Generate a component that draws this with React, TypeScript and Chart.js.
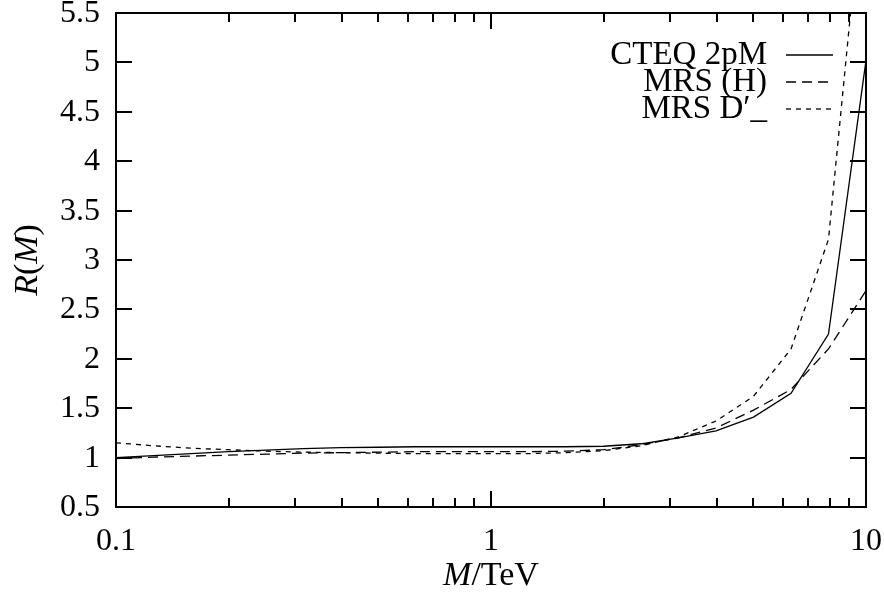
import React, { useEffect, useRef } from 'react';
import { Chart, registerables } from 'chart.js';

Chart.register(...registerables);

const FONT = '"Liberation Serif", "DejaVu Serif", serif';

// Mass points (TeV)
const M_VALUES = [0.1, 0.1259, 0.1585, 0.1995, 0.2512, 0.3162, 0.3981, 0.5012, 0.631, 0.7943, 1, 1.259, 1.585, 1.995, 2.512, 3.162, 3.981, 5.012, 6.31, 7.943, 10];
// R(M) for each PDF set
const CTEQ_2PM = [1.0, 1.02, 1.04, 1.06, 1.075, 1.09, 1.1, 1.105, 1.11, 1.11, 1.11, 1.11, 1.11, 1.115, 1.14, 1.2, 1.27, 1.41, 1.65, 2.25, 5.02];
const MRS_H = [0.99, 1.005, 1.015, 1.025, 1.035, 1.045, 1.05, 1.055, 1.06, 1.06, 1.06, 1.06, 1.065, 1.08, 1.13, 1.2, 1.3, 1.48, 1.69, 2.1, 2.69];
const MRS_D = [1.15, 1.12, 1.095, 1.08, 1.065, 1.055, 1.05, 1.045, 1.04, 1.04, 1.04, 1.04, 1.05, 1.07, 1.12, 1.21, 1.37, 1.62, 2.1, 3.21, 7.1];

const SERIES_LABELS = ['CTEQ 2pM', 'MRS (H)', 'MRS D\u2032_'];
const SERIES_DASH: number[][] = [[], [10, 6], [5, 5]];

const Y_TICKS = [0.5, 1, 1.5, 2, 2.5, 3, 3.5, 4, 4.5, 5, 5.5];
const X_MAJOR = [0.1, 1, 10];
const X_MINOR = [0.2, 0.3, 0.4, 0.5, 0.6, 0.7, 0.8, 0.9, 2, 3, 4, 5, 6, 7, 8, 9];

function drawMixed(ctx: CanvasRenderingContext2D, parts: [string, boolean][], cx: number, cy: number, size: number) {
  let total = 0;
  const widths = parts.map(([t, it]) => {
    ctx.font = `${it ? 'italic ' : ''}${size}px ${FONT}`;
    const w = ctx.measureText(t).width;
    total += w;
    return w;
  });
  let x = cx - total / 2;
  ctx.textAlign = 'left';
  ctx.textBaseline = 'middle';
  parts.forEach(([t, it], i) => {
    ctx.font = `${it ? 'italic ' : ''}${size}px ${FONT}`;
    ctx.fillText(t, x, cy);
    x += widths[i];
  });
}

const framePlugin = {
  id: 'frame',
  afterDraw(chart: any) {
    const { ctx, chartArea, scales } = chart;
    const L = Number(chartArea.left);
    const R = Number(chartArea.right);
    const T = Number(chartArea.top);
    const B = Number(chartArea.bottom);
    const x = scales.x;
    const y = scales.y;
    ctx.save();
    ctx.strokeStyle = '#000000';
    ctx.fillStyle = '#000000';
    ctx.lineWidth = 2;
    ctx.setLineDash([]);
    ctx.strokeRect(L, T, R - L, B - T);

    // inward tick marks on all four sides
    ctx.beginPath();
    Y_TICKS.forEach((v) => {
      const py = Math.round(y.getPixelForValue(v));
      ctx.rect(L, py - 1, 16, 2);
      ctx.rect(R - 16, py - 1, 16, 2);
    });
    X_MAJOR.forEach((v) => {
      const px = Math.round(x.getPixelForValue(v));
      ctx.rect(px - 1, B - 16, 2, 16);
      ctx.rect(px - 1, T, 2, 16);
    });
    X_MINOR.forEach((v) => {
      const px = Math.round(x.getPixelForValue(v));
      ctx.rect(px - 1, B - 9, 2, 9);
      ctx.rect(px - 1, T, 2, 9);
    });
    ctx.fill();

    ctx.font = `32px ${FONT}`;
    Y_TICKS.forEach((v) => {
      const py = Math.round(y.getPixelForValue(v));
      ctx.textAlign = 'right';
      ctx.textBaseline = 'middle';
      ctx.fillText(String(v), 100, py + 1);
    });
    X_MAJOR.forEach((v) => {
      const px = Math.round(x.getPixelForValue(v));
      ctx.textAlign = 'center';
      ctx.textBaseline = 'middle';
      ctx.fillText(String(v), px, 542);
    });

    // legend
    ctx.font = `33px ${FONT}`;
    SERIES_LABELS.forEach((lab, i) => {
      const ry = 55 + i * 27;
      ctx.textAlign = 'right';
      ctx.textBaseline = 'alphabetic';
      ctx.fillText(lab, 767, ry + 9);
      ctx.lineWidth = 1.3;
      ctx.setLineDash(SERIES_DASH[i]);
      ctx.beginPath();
      ctx.moveTo(786, ry);
      ctx.lineTo(833, ry);
      ctx.stroke();
    });
    ctx.setLineDash([]);

    // axis titles
    drawMixed(ctx, [['M', true], ['/TeV', false]], (L + R) / 2, 576, 34);
    ctx.translate(28, (T + B) / 2);
    ctx.rotate(-Math.PI / 2);
    drawMixed(ctx, [['R', true], ['(', false], ['M', true], [')', false]], 0, 0, 34);
    ctx.restore();
  },
};

export default function App() {
  const ref = useRef<HTMLCanvasElement | null>(null);
  useEffect(() => {
    if (!ref.current) return;
    const series = [CTEQ_2PM, MRS_H, MRS_D];
    const chart = new Chart(ref.current, {
      type: 'line',
      data: {
        datasets: series.map((vals, i) => ({
          label: SERIES_LABELS[i],
          data: M_VALUES.map((m, j) => ({ x: m, y: vals[j] })),
          borderColor: '#000',
          borderWidth: 1.3,
          borderDash: SERIES_DASH[i],
          pointRadius: 0,
          tension: 0,
          fill: false,
        })),
      },
      options: {
        animation: false,
        responsive: false,
        events: [],
        layout: { padding: { top: 13, right: 18, left: 0, bottom: 0 } },
        plugins: { legend: { display: false }, tooltip: { enabled: false } },
        scales: {
          x: {
            type: 'logarithmic',
            min: 0.1,
            max: 10,
            afterFit: (scale: any) => {
              scale.height = 87;
            },
            ticks: { display: false },
            grid: { display: false, drawTicks: false },
            border: { display: false },
          },
          y: {
            type: 'linear',
            min: 0.5,
            max: 5.5,
            afterFit: (scale: any) => {
              scale.width = 116;
            },
            ticks: { display: false },
            grid: { display: false, drawTicks: false },
            border: { display: false },
          },
        },
      },
      plugins: [framePlugin],
    } as any);
    return () => chart.destroy();
  }, []);
  return (
    <div style={{ position: 'absolute', left: 0, top: 0, width: 884, height: 594, background: '#fff' }}>
      <canvas ref={ref} width={884} height={594} />
    </div>
  );
}
